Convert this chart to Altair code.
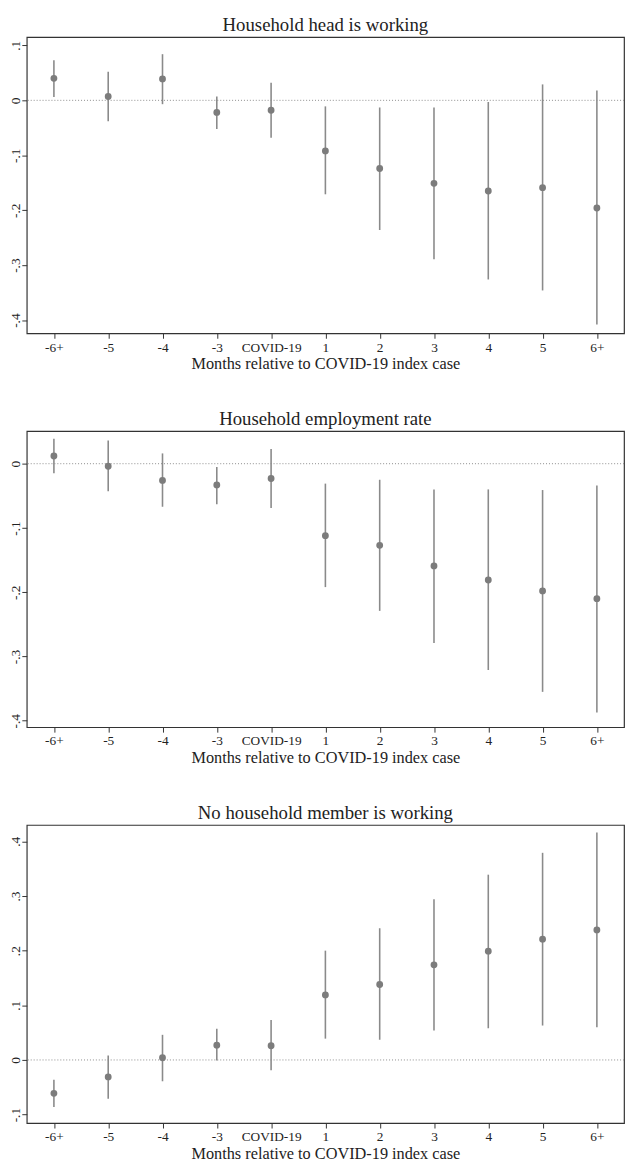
import altair as alt
import pandas as pd

categories = ["-6+", "-5", "-4", "-3", "COVID-19", "1", "2", "3", "4", "5", "6+"]

# Panel 1: Household head is working
head_est = [0.040, 0.007, 0.039, -0.022, -0.018, -0.092, -0.124, -0.151, -0.165, -0.159, -0.196]
head_lo = [0.006, -0.038, -0.007, -0.052, -0.068, -0.171, -0.236, -0.289, -0.326, -0.346, -0.408]
head_hi = [0.073, 0.052, 0.084, 0.007, 0.032, -0.011, -0.013, -0.013, -0.003, 0.029, 0.018]

# Panel 2: Household employment rate
emp_est = [0.012, -0.004, -0.026, -0.033, -0.023, -0.112, -0.127, -0.159, -0.181, -0.198, -0.210]
emp_lo = [-0.015, -0.043, -0.067, -0.063, -0.069, -0.192, -0.229, -0.279, -0.321, -0.355, -0.387]
emp_hi = [0.039, 0.036, 0.016, -0.005, 0.023, -0.031, -0.025, -0.040, -0.040, -0.041, -0.034]

# Panel 3: No household member is working
none_est = [-0.061, -0.031, 0.004, 0.027, 0.026, 0.119, 0.138, 0.174, 0.199, 0.221, 0.238]
none_lo = [-0.086, -0.071, -0.039, -0.001, -0.019, 0.039, 0.037, 0.054, 0.058, 0.063, 0.060]
none_hi = [-0.036, 0.008, 0.046, 0.057, 0.073, 0.200, 0.241, 0.294, 0.339, 0.379, 0.416]

titles = ["Household head is working", "Household employment rate", "No household member is working"]
domains = [[-0.424, 0.115], [-0.410, 0.0508], [-0.1155, 0.430]]
tick_values = [[-0.4, -0.3, -0.2, -0.1, 0, 0.1], [-0.4, -0.3, -0.2, -0.1, 0], [-0.1, 0, 0.1, 0.2, 0.3, 0.4]]
heights = [300, 300, 302]

FONT = "Liberation Serif"
GRAY = "#7c7c7c"
LINE_GRAY = "#8a8a8a"

label_expr = ("datum.value == 0 ? '0' : (datum.value < 0 ? '-' : '') + "
              "replace(format(abs(datum.value), '.1f'), '0.', '.')")


def panel(title, est, lo, hi, domain, ticks, height):
    df = pd.DataFrame({"cat": categories, "est": est, "lo": lo, "hi": hi})
    x = alt.X(
        "cat:O",
        sort=categories,
        scale=alt.Scale(type="point", padding=0.5),
        axis=alt.Axis(
            title="Months relative to COVID-19 index case",
            labelAngle=0,
            labelPadding=2,
            titlePadding=2,
        ),
    )
    yscale = alt.Scale(domain=domain, nice=False, zero=False)
    yaxis = alt.Axis(
        title=None,
        values=ticks,
        labelAngle=270,
        labelAlign="center",
        labelBaseline="bottom",
        labelPadding=-1,
        labelExpr=label_expr,
    )
    zero = alt.Chart(pd.DataFrame({"z": [0.0]})).mark_rule(
        color="#8c8c8c", strokeDash=[1, 2], strokeWidth=1
    ).encode(y=alt.Y("z:Q", scale=yscale, axis=yaxis))
    base = alt.Chart(df)
    rules = base.mark_rule(color=LINE_GRAY, strokeWidth=1.6).encode(
        x=x, y=alt.Y("lo:Q", scale=yscale, axis=yaxis), y2="hi:Q"
    )
    pts = base.mark_circle(color=GRAY, opacity=1, size=48).encode(
        x=x, y=alt.Y("est:Q", scale=yscale, axis=yaxis)
    )
    return alt.layer(zero, rules, pts).properties(
        width=605, height=height, title=alt.TitleParams(title)
    )


panels = [
    panel(titles[0], head_est, head_lo, head_hi, domains[0], tick_values[0], heights[0]),
    panel(titles[1], emp_est, emp_lo, emp_hi, domains[1], tick_values[1], heights[1]),
    panel(titles[2], none_est, none_lo, none_hi, domains[2], tick_values[2], heights[2]),
]

chart = (
    alt.vconcat(*panels, spacing=37)
    .properties(padding=0, background="white")
    .configure_view(stroke="#333333", strokeWidth=1.2)
    .configure_axis(
        labelFont=FONT,
        labelFontSize=13.5,
        labelColor="#222222",
        titleFont=FONT,
        titleFontSize=16.5,
        titleFontWeight="normal",
        titleColor="#222222",
        tickSize=5,
        tickColor="#333333",
        domain=False,
        grid=False,
    )
    .configure_title(
        font=FONT,
        fontSize=19,
        fontWeight="normal",
        color="#222222",
        anchor="middle",
        baseline="bottom",
        offset=2,
    )
)

chart.save("out.html", embed_options={"renderer": "svg", "actions": False})
